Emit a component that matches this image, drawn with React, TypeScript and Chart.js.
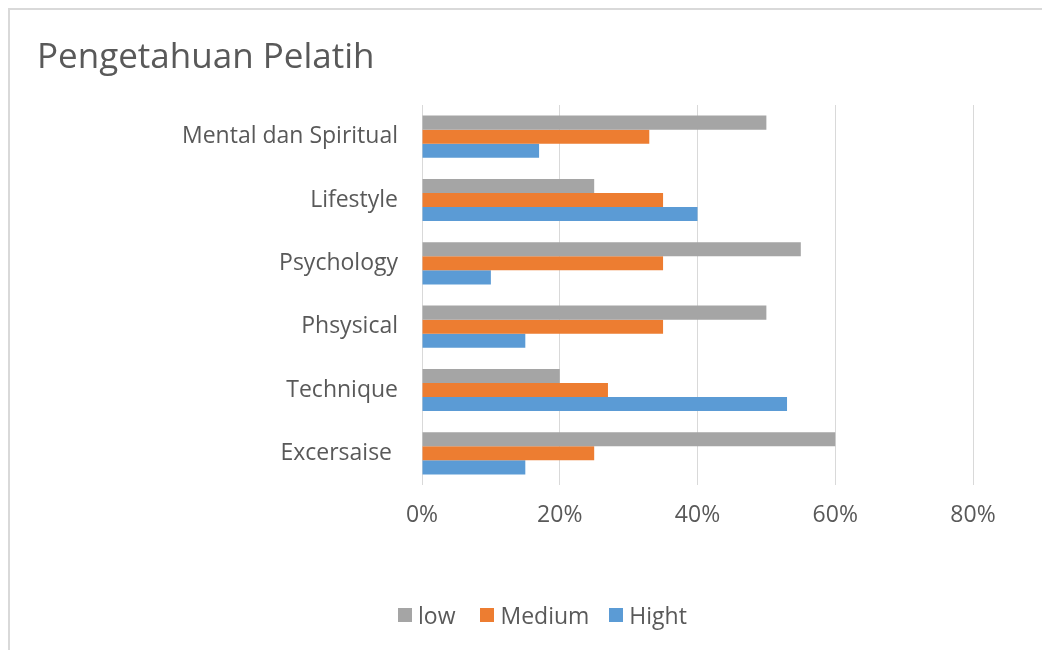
import React, { useEffect, useRef } from "react";
import { Chart, registerables } from "chart.js";

Chart.register(...registerables);

const categories = [
  "Mental dan Spiritual",
  "Lifestyle",
  "Psychology",
  "Phsysical",
  "Technique",
  "Excersaise ",
];
const lowValues = [50, 25, 55, 50, 20, 60];
const mediumValues = [33, 35, 35, 35, 27, 25];
const hightValues = [17, 40, 10, 15, 53, 15];
const seriesNames = ["low", "Medium", "Hight"];
const seriesColors = ["#A5A5A5", "#ED7D31", "#5B9BD5"];
const xTicks = [0, 20, 40, 60, 80];

const FONT = "'Open Sans', 'Noto Sans', sans-serif";
const TEXT = "#595959";

export default function App() {
  const ref = useRef<HTMLCanvasElement | null>(null);

  useEffect(() => {
    if (!ref.current) return;
    const chart = new Chart(ref.current, {
      type: "bar",
      data: {
        labels: categories,
        datasets: [
          { label: seriesNames[0], data: lowValues, backgroundColor: seriesColors[0] },
          { label: seriesNames[1], data: mediumValues, backgroundColor: seriesColors[1] },
          { label: seriesNames[2], data: hightValues, backgroundColor: seriesColors[2] },
        ],
      },
      options: {
        indexAxis: "y",
        animation: false,
        responsive: false,
        maintainAspectRatio: false,
        datasets: {
          bar: { categoryPercentage: 0.667, barPercentage: 1.0 },
        },
        layout: { padding: { left: 27, right: 77, top: 0, bottom: 72 } },
        scales: {
          x: {
            min: 0,
            max: 80,
            afterBuildTicks: (scale: any) => {
              scale.ticks = xTicks.map((v) => ({ value: v }));
            },
            afterFit: (scale: any) => {
              scale.height = 93;
            },
            grid: { color: "#D9D9D9", lineWidth: 1, drawTicks: false },
            border: { display: false },
            ticks: {
              padding: 17,
              color: TEXT,
              font: { family: FONT, size: 23 },
              callback: (v: any) => `${v}%`,
            },
          },
          y: {
            afterFit: (scale: any) => {
              scale.width = 385;
            },
            grid: { display: false, drawTicks: false },
            border: { display: false },
            ticks: {
              padding: 24,
              color: TEXT,
              font: { family: FONT, size: 23 },
            },
          },
        },
        plugins: {
          title: {
            display: true,
            text: "Pengetahuan Pelatih",
            align: "start",
            color: TEXT,
            font: { family: FONT, size: 35, weight: "normal" },
            padding: { top: 27, bottom: 26 },
          },
          legend: { display: false },
          tooltip: { enabled: false },
        },
      },
    });
    return () => chart.destroy();
  }, []);

  const gaps = [25, 20, 0];

  return (
    <div
      style={{
        position: "relative",
        width: 1042,
        height: 642,
        boxSizing: "border-box",
        borderTop: "2px solid #D9D9D9",
        borderLeft: "2px solid #D9D9D9",
        background: "#fff",
      }}
    >
      <canvas ref={ref} width={1040} height={640} style={{ display: "block" }} />
      <div
        style={{
          position: "absolute",
          left: 388,
          top: 590,
          height: 30,
          display: "flex",
          alignItems: "center",
          fontFamily: FONT,
          fontSize: 23,
          color: TEXT,
          whiteSpace: "nowrap",
        }}
      >
        {seriesNames.map((name, i) => (
          <div
            key={name}
            style={{ display: "flex", alignItems: "center", marginRight: gaps[i] }}
          >
            <span
              style={{
                display: "inline-block",
                width: 14,
                height: 14,
                background: seriesColors[i],
                marginRight: 6,
              }}
            />
            <span style={{ lineHeight: "30px" }}>{name}</span>
          </div>
        ))}
      </div>
    </div>
  );
}
